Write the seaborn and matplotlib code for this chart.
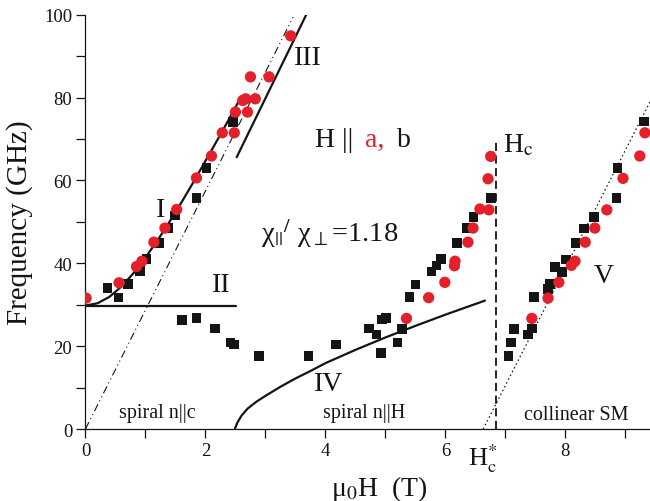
import matplotlib
matplotlib.use("Agg")
import matplotlib.pyplot as plt
import seaborn as sns
import pandas as pd

# ---- measured resonance frequencies (field in T, frequency in GHz) ----
b_field = [0.37, 0.55, 0.71, 0.91, 1.02, 1.225, 1.38, 1.49, 1.85, 2.02, 2.46,
           1.61, 1.85, 2.16, 2.42, 2.475, 2.89, 3.72,
           4.175, 4.73, 4.85, 4.925, 4.94, 5.01, 5.20, 5.28, 5.40, 5.50, 5.77,
           5.85, 5.93, 6.19, 6.35, 6.47, 6.76,
           7.05, 7.09, 7.14, 7.375, 7.44, 7.48, 7.71, 7.74, 7.83, 7.94, 8.005,
           8.17, 8.31, 8.48, 8.85, 8.87, 9.31]
b_freq = [34.0, 31.7, 35.0, 38.2, 41.1, 44.9, 48.5, 51.5, 55.8, 63.0, 74.1,
          26.3, 26.8, 24.3, 20.9, 20.4, 17.6, 17.6,
          20.4, 24.3, 22.8, 18.3, 26.4, 26.8, 20.9, 24.2, 31.8, 34.9, 38.0,
          39.5, 41.0, 44.9, 48.5, 51.1, 55.7,
          17.6, 20.9, 24.2, 22.8, 24.3, 31.8, 33.8, 34.95, 39.1, 37.9, 40.9,
          44.9, 48.4, 51.1, 55.8, 63.0, 74.2]

a_field = [0.01, 0.56, 0.85, 0.94, 1.14, 1.325, 1.52, 1.85, 2.10, 2.28, 2.48,
           2.50, 2.70, 2.62, 2.67, 2.83, 2.75, 3.06, 3.42,
           5.35, 5.72, 5.99, 6.15, 6.16, 6.375, 6.46, 6.575, 6.725, 6.71, 6.755,
           7.44, 7.71, 7.89, 8.10, 8.16, 8.33, 8.49, 8.69, 8.96, 9.24, 9.325]
a_freq = [31.6, 35.3, 39.2, 40.5, 45.1, 48.5, 53.0, 60.6, 65.9, 71.5, 71.5,
          76.5, 76.5, 79.3, 79.7, 79.7, 85.0, 85.0, 94.9,
          26.7, 31.7, 35.4, 39.4, 40.5, 45.1, 48.5, 53.1, 52.9, 60.4, 65.8,
          26.7, 31.6, 35.4, 39.5, 40.5, 45.1, 48.5, 52.9, 60.5, 65.9, 71.5]

# ---- model branches ----
mode1_field = [0.0, 0.2, 0.4, 0.6, 0.8, 1.0, 1.2, 1.4, 1.6, 1.8, 2.0, 2.2, 2.4, 2.6]
mode1_freq = [29.8, 30.35, 31.9, 34.4, 37.6, 41.4, 45.5, 50.0, 54.7, 59.6, 64.7,
              69.8, 75.0, 80.3]
mode2_field = [0.0, 2.51]
mode2_freq = [29.8, 29.8]
mode3_field = [2.52, 3.68]
mode3_freq = [65.6, 100.0]
mode4_field = [2.49, 2.53, 2.60, 2.70, 2.85, 3.00, 3.25, 3.50, 3.75, 4.00, 4.50,
               5.00, 5.50, 6.00, 6.66]
mode4_freq = [0.0, 1.5, 3.2, 4.9, 6.6, 8.0, 10.2, 12.2, 14.0, 15.9, 19.1,
              22.1, 24.9, 27.6, 31.0]
para_field = [0.0, 3.46]
para_freq = [0.0, 99.4]
sm_field = [6.63, 9.45]
sm_freq = [0.0, 80.1]
hc_field = [6.85, 6.85]
hc_freq = [0.0, 70.0]

x_ticks = [0, 2, 4, 6, 8]
y_ticks = [0, 20, 40, 60, 80, 100]

RED = "#e4202a"
INK = "#141414"

sns.set_theme(style="ticks")
plt.rcParams["font.family"] = ["Liberation Serif", "DejaVu Serif"]
plt.rcParams["mathtext.fontset"] = "stix"

fig = plt.figure(figsize=(6.5, 5.02), dpi=100)
ax = fig.add_axes([0.1315, 0.1434, 0.8685, 0.8253])

def curve(xs, ys, **kw):
    sns.lineplot(x=xs, y=ys, sort=False, estimator=None, ax=ax,
                 legend=False, **kw)

curve(para_field, para_freq, color=INK, lw=0.8, linestyle=(0, (7, 3, 1, 3, 1, 3)))
curve(sm_field, sm_freq, color=INK, lw=0.9, linestyle=(0, (1.2, 2.2)))
curve(hc_field, hc_freq, color=INK, lw=1.3, linestyle=(0, (4.5, 2.5)))
curve(mode1_field, mode1_freq, color=INK, lw=1.6)
curve(mode2_field, mode2_freq, color=INK, lw=1.6)
curve(mode3_field, mode3_freq, color=INK, lw=1.6)
curve(mode4_field, mode4_freq, color=INK, lw=1.6)

sq = pd.DataFrame({"field": b_field, "freq": b_freq})
ci = pd.DataFrame({"field": a_field, "freq": a_freq})
sns.scatterplot(data=sq, x="field", y="freq", marker="s", s=48, color=INK,
                edgecolor="none", ax=ax, zorder=3)
sns.scatterplot(data=ci, x="field", y="freq", marker="o", s=66, color=RED,
                edgecolor="none", ax=ax, zorder=4)

ax.set_xlim(0, 9.41)
ax.set_ylim(0, 100)
ax.set_xticks(x_ticks)
ax.set_xticks([1, 3, 5, 7, 9], minor=True)
ax.set_yticks(y_ticks)
ax.set_yticks([10, 30, 50, 70, 90], minor=True)
ax.tick_params(which="both", direction="out", length=6.5, width=0.9,
               color=INK, labelsize=13.5, labelcolor=INK, pad=3)
sns.despine(ax=ax)
for side in ("left", "bottom"):
    ax.spines[side].set_linewidth(0.9)
    ax.spines[side].set_color(INK)

ax.set_xlabel("μ$_0$H  (T)", fontsize=20, color=INK)
ax.set_ylabel("Frequency (GHz)", fontsize=21, color=INK)
ax.xaxis.set_label_coords(0.52, -0.105)
ax.yaxis.set_label_coords(-0.093, 0.5)

big = 20
ax.text(1.26, 53.0, "I", fontsize=big, ha="center", va="center", color=INK)
ax.text(2.26, 35.0, "II", fontsize=big, ha="center", va="center", color=INK)
ax.text(3.70, 89.6, "III", fontsize=big, ha="center", va="center", color=INK)
ax.text(4.06, 11.1, "IV", fontsize=big, ha="center", va="center", color=INK)
ax.text(8.64, 37.0, "V", fontsize=big, ha="center", va="center", color=INK)

ax.text(3.83, 68.4, "H ||", fontsize=big, ha="left", va="baseline", color=INK)
ax.text(4.66, 68.4, "a,", fontsize=big, ha="left", va="baseline", color=RED)
ax.text(5.19, 68.4, "b", fontsize=big, ha="left", va="baseline", color=INK)

ax.text(6.96, 67.1, r"H$_\mathrm{c}$", fontsize=big, ha="left", va="baseline",
        color=INK)
ax.text(2.93, 45.4, r"χ$_{||}$$^{/}$ χ$_{\perp}$=1.18", fontsize=20.5,
        ha="left", va="baseline", color=INK)

ax.text(1.2, 2.9, "spiral n||c", fontsize=14.5, ha="center", va="baseline",
        color=INK)
ax.text(4.64, 2.9, "spiral n||H", fontsize=14.5, ha="center", va="baseline",
        color=INK)
ax.text(8.18, 2.4, "collinear SM", fontsize=14.5, ha="center", va="baseline",
        color=INK)

ax.text(6.62, -2.8, r"H$_\mathrm{c}^{*}$", fontsize=19, ha="center", va="top",
        color=INK, clip_on=False)

fig.savefig("out.png", dpi=100)
